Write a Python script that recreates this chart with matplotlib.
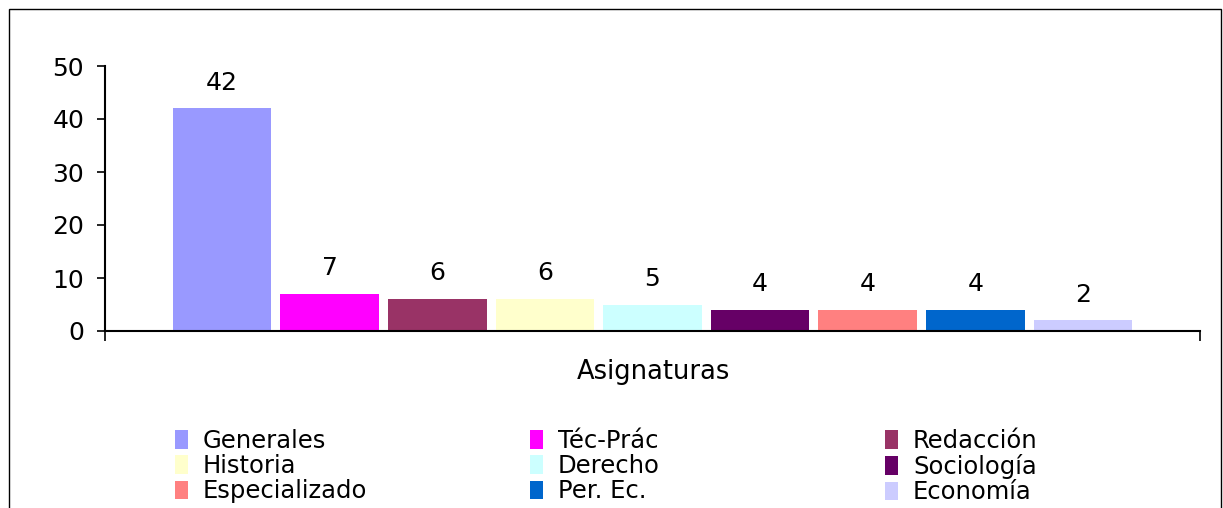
import matplotlib
matplotlib.use('Agg')
from matplotlib import pyplot as plt
from matplotlib.patches import Rectangle

# data
categories = ['Generales', 'Téc-Prác', 'Redacción', 'Historia', 'Derecho',
              'Sociología', 'Especializado', 'Per. Ec.', 'Economía']
values = [42, 7, 6, 6, 5, 4, 4, 4, 2]
colors = ['#9999FF', '#FF00FF', '#993366', '#FFFFCC', '#CCFFFF',
          '#660066', '#FF8080', '#0066CC', '#CCCCFF']
yticks = [0, 10, 20, 30, 40, 50]
xlabel = 'Asignaturas'

plt.rcParams['font.family'] = ['DejaVu Sans']

W, H = 1223, 508
fig = plt.figure(figsize=(W / 100, H / 100), dpi=100)
ax = fig.add_axes([105 / W, 1 - 331 / H, (1200 - 105) / W, (331 - 66) / H])

x = list(range(len(values)))
bars = ax.bar(x, values, width=0.917, color=colors, edgecolor='none')
for b, v in zip(bars, values):
    ax.annotate(str(v), (b.get_x() + b.get_width() / 2, b.get_height()),
                xytext=(0, 10), textcoords='offset points',
                ha='center', va='bottom', fontsize=18)

ax.set_ylim(0, 50)
ax.set_xlim(-1.088, len(values) - 1 + 1.088)
ax.set_yticks(yticks)
ax.tick_params(axis='y', labelsize=18, direction='out', length=6,
               width=1.2, pad=9)
ax.set_xticks([ax.get_xlim()[0], ax.get_xlim()[1]])
ax.set_xticklabels([])
ax.tick_params(axis='x', direction='out', length=7, width=1.2)
for s in ['top', 'right']:
    ax.spines[s].set_visible(False)
for s in ['left', 'bottom']:
    ax.spines[s].set_linewidth(1.5)

fig.text(653 / W, 1 - 372 / H, xlabel, ha='center', va='center', fontsize=18.5)

# legend in three columns, filled row by row
colx = [175, 530, 885]
for c in range(3):
    idx = [c, c + 3, c + 6]
    leg = fig.legend([bars[i] for i in idx], [categories[i] for i in idx],
                     loc='upper left',
                     bbox_to_anchor=(colx[c] / W, 1 - 429 / H),
                     frameon=False, fontsize=17.5, borderpad=0,
                     borderaxespad=0, labelspacing=0.05, handlelength=0.55,
                     handleheight=0.8, handletextpad=0.6)

# outer chart border
fig.patches.append(Rectangle((9 / W, -0.1), (1221 - 9) / W, 1.1 - 9 / H,
                             transform=fig.transFigure, fill=False,
                             edgecolor='black', linewidth=1.0))

fig.savefig('out.png', dpi=100)
